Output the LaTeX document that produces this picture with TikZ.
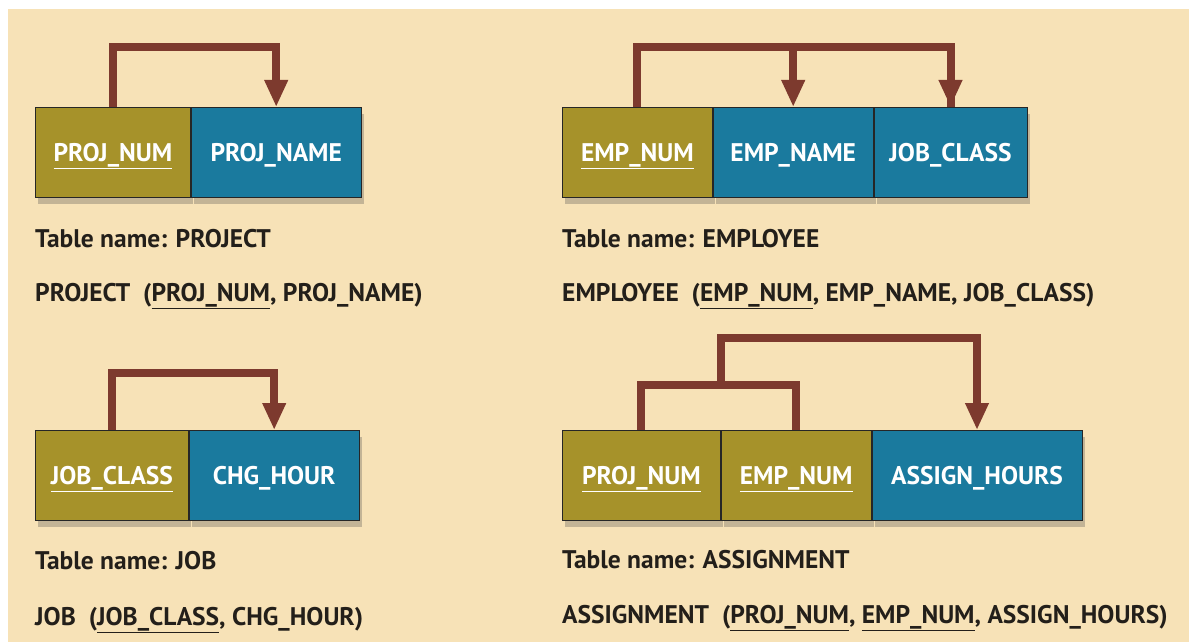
\documentclass[tikz,border=0pt]{standalone}
\usepackage{fontspec}
\setmainfont{PT Sans}
\usetikzlibrary{arrows.meta,shadows,calc}

\definecolor{bgtan}{HTML}{F7E2B7}
\definecolor{keyolive}{HTML}{A6922A}
\definecolor{attrblue}{HTML}{1A7A9E}
\definecolor{depbrown}{HTML}{7D3A2E}
\definecolor{textdark}{HTML}{231F1A}

\begin{document}
\begin{tikzpicture}[x=1pt, y=-1pt,
        cell/.style={rectangle, draw=black!85, line width=0.8pt, anchor=north west,
            minimum height=90pt, inner sep=0pt, text=white, text height=18pt, text depth=0pt,
            yshift=0pt, font=\fontsize{25.5}{26}\selectfont\bfseries,
            drop shadow={shadow xshift=3pt, shadow yshift=-7pt, opacity=0.3, fill=black!70}},
        keycell/.style={cell, fill=keyolive},
        attrcell/.style={cell, fill=attrblue},
        caption/.style={anchor=base west, inner sep=0pt, text=textdark,
            font=\fontsize{25.5}{26}\selectfont\bfseries},
        depline/.style={draw=depbrown, line width=8pt},
        dep/.style={depline, -{Triangle[width=22pt,length=27pt]}}
    ]
        \useasboundingbox (0,0) rectangle (1189,642);
        \fill[white] (0,0) rectangle (1189,642);
        \fill[bgtan] (8,9) rectangle (1189,642);

        % PROJECT
        \node[keycell, minimum width=155pt] (pnum) at (35,107) {\underline{PROJ\_NUM}};
        \node[attrcell, minimum width=170pt] (pname) at (pnum.north east) {PROJ\_NAME};
        \node[caption] (pcap) at (35,247) {Table name: PROJECT};
        \node[caption] (pschema) at (35,301) {PROJECT~~(\underline{PROJ\_NUM}, PROJ\_NAME)};

        % EMPLOYEE
        \node[keycell, minimum width=150pt] (enum) at (562,107) {\underline{EMP\_NUM}};
        \node[attrcell, minimum width=160pt] (ename) at (enum.north east) {EMP\_NAME};
        \node[attrcell, minimum width=153pt] (eclass) at (ename.north east) {JOB\_CLASS};
        \node[caption] (ecap) at (562,247) {Table name: EMPLOYEE};
        \node[caption] (eschema) at (562,301) {EMPLOYEE~~(\underline{EMP\_NUM}, EMP\_NAME, JOB\_CLASS)};

        % JOB
        \node[keycell, minimum width=153pt] (jclass) at (35,430) {\underline{JOB\_CLASS}};
        \node[attrcell, minimum width=170pt] (jchg) at (jclass.north east) {CHG\_HOUR};
        \node[caption] (jcap) at (35,569) {Table name: JOB};
        \node[caption] (jschema) at (35,625) {JOB~~(\underline{JOB\_CLASS}, CHG\_HOUR)};

        % ASSIGNMENT
        \node[keycell, minimum width=158pt] (apnum) at (562,430) {\underline{PROJ\_NUM}};
        \node[keycell, minimum width=150pt] (aenum) at (apnum.north east) {\underline{EMP\_NUM}};
        \node[attrcell, minimum width=210pt] (ahours) at (aenum.north east) {ASSIGN\_HOURS};
        \node[caption] (acap) at (562,568) {Table name: ASSIGNMENT};
        \node[caption] (aschema) at (562,623) {ASSIGNMENT~~(\underline{PROJ\_NUM}, \underline{EMP\_NUM}, ASSIGN\_HOURS)};

        % Dependencies
        \draw[dep] (pnum.north) -- ++(0,-60) -| (pname.north);
        \draw[depline] (enum.north) -- ++(0,-60) -| (eclass.north);
        \draw[dep] (ename.north) ++(0,-60) -- (ename.north);
        \draw[dep] (eclass.north) ++(0,-56) -- (eclass.north);
        \draw[dep] (jclass.north) -- ++(0,-57) -| (jchg.north);
        \draw[depline] (apnum.north) -- ++(0,-45) -| (aenum.north);
        \coordinate (ajoin) at ($(apnum.north east)+(0,-45)$);
        \draw[dep] (ajoin) -- ++(0,-47) -| (ahours.north);
    \end{tikzpicture}
\end{document}
